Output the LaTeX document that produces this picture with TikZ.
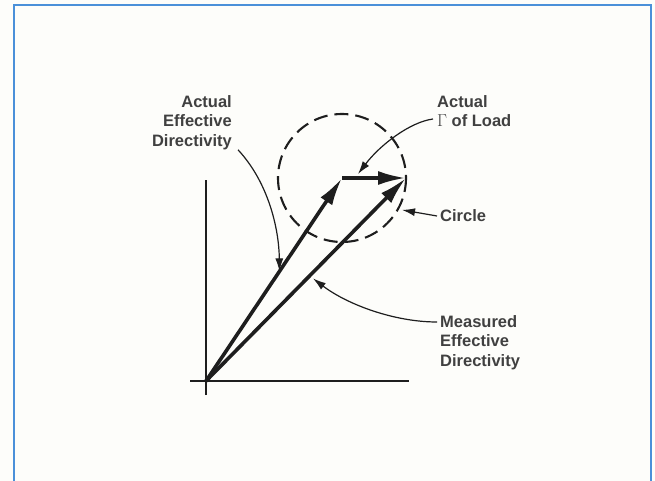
\documentclass[tikz,border=0pt]{standalone}
\usepackage{fontspec}
\setmainfont{Liberation Sans}
\usetikzlibrary{arrows.meta, positioning, calc}
\definecolor{frameblue}{RGB}{74,144,217}
\definecolor{paper}{RGB}{253,253,250}
\definecolor{ink}{RGB}{30,30,30}

\begin{document}
\begin{tikzpicture}[
  x=1pt, y=-1pt,
  lbl/.style={font=\bfseries\fontsize{16.5}{19.5}\selectfont, inner sep=0pt, text=ink!85},
  axis/.style={line width=1.8pt, ink},
  vec/.style={-{Latex[length=28pt, width=14pt]}, line width=3.6pt, ink},
  lead/.style={-{Latex[length=13pt, width=8pt]}, line width=1.2pt, ink},
  ring/.style={dash pattern=on 14pt off 7pt, line width=2.1pt, ink}
]
\useasboundingbox (0,0) rectangle (655,481);
\fill[paper] (0,0) rectangle (655,481);
\draw[frameblue, line width=2.5pt] (14,495) -- (14,5) -- (651,5) -- (651,495);

\coordinate (O) at (206,381);
\coordinate (K) at (342,178);
\coordinate (T) at (406,178);
\coordinate (xa) at (190,381);
\coordinate (xb) at (409,381);
\coordinate (ya) at (206,395);
\coordinate (yb) at (206,180);

\draw[axis] (xa) -- (xb);
\draw[axis] (ya) -- (yb);
\draw[ring] (K) circle[radius=64];

\draw[vec] (O) -- (K);
\draw[vec] (K) -- (T);
\draw[vec] (O) -- (T);

\node[lbl, align=right, anchor=north east] (aed) at (232,95) {Actual\\Effective\\Directivity};
\node[lbl, align=left, anchor=north west] (gam) at (437,95) {Actual\\$\Gamma$ of Load};
\node[lbl, anchor=west] (circ) at (440,216) {Circle};
\node[lbl, align=left, anchor=north west] (med) at (440,315) {Measured\\Effective\\Directivity};

\coordinate (a1) at ($(O)!0.54!(K)$);
\coordinate (g1) at ($(K)!0.25!(T)+(0,-4)$);
\coordinate (c1) at ($(K)+(28:68)$);
\coordinate (m1) at ($(O)!0.52!(T)+(3,3)$);

\draw[lead] ([xshift=6pt]aed.south east) .. controls (268,182) and (279,228) .. (a1);
\draw[lead] ([xshift=-4pt, yshift=-24pt]gam.north west) .. controls (410,122) and (380,145) .. (g1);
\draw[lead] ([xshift=-3pt]circ.west) -- (c1);
\draw[lead] ([xshift=-3pt, yshift=-7pt]med.north west) .. controls (395,322) and (348,305) .. (m1);
\end{tikzpicture}
\end{document}
